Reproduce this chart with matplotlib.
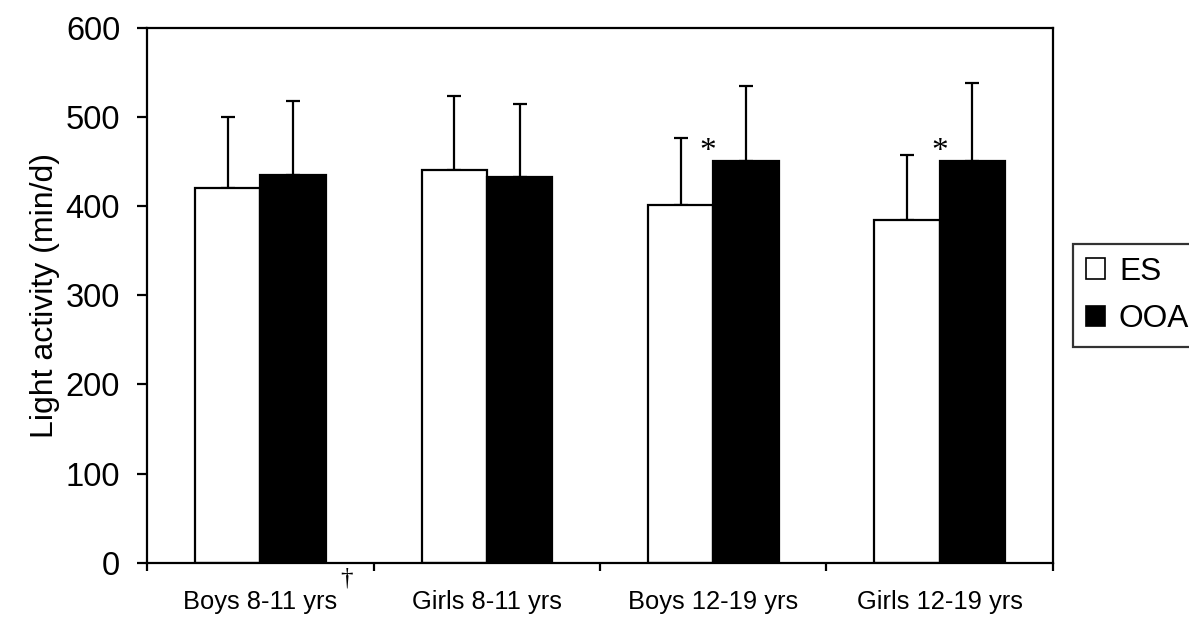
import matplotlib
matplotlib.use('Agg')
import matplotlib.pyplot as plt
import numpy as np
from matplotlib.patches import Patch

plt.rcParams['font.family'] = ['Liberation Sans', 'DejaVu Sans']

# 分组与数据
groups = ['Boys 8-11 yrs', 'Girls 8-11 yrs', 'Boys 12-19 yrs', 'Girls 12-19 yrs']
es_mean = [421, 441, 401, 385]
es_sd = [79, 83, 76, 72]
ooa_mean = [435, 433, 451, 451]
ooa_sd = [83, 82, 84, 87]

fig = plt.figure(figsize=(11.89, 6.18), dpi=100)
ax = fig.add_axes([0.1239, 0.0895, 0.7615, 0.8652])

x = np.arange(len(groups)) + 0.5
w = 0.2885
lw = 1.6

ax.bar(x - w / 2, es_mean, w, color='white', edgecolor='black', linewidth=lw, zorder=2)
ax.bar(x + w / 2, ooa_mean, w, color='black', edgecolor='black', linewidth=lw, zorder=2)

# 只画向上的误差线
ax.errorbar(x - w / 2, es_mean, yerr=[np.zeros(4), es_sd], fmt='none',
            ecolor='black', elinewidth=lw, capsize=5, capthick=lw, zorder=1)
ax.errorbar(x + w / 2, ooa_mean, yerr=[np.zeros(4), ooa_sd], fmt='none',
            ecolor='black', elinewidth=lw, capsize=5, capthick=lw, zorder=1)

# 显著性标记
ax.text(2.475, 461, '*', family='Liberation Serif', fontsize=24, ha='center', va='center')
ax.text(3.5, 461, '*', family='Liberation Serif', fontsize=24, ha='center', va='center')
ax.text(0.882, -18, '\u2020', family='Liberation Serif', fontsize=18, ha='center',
        va='center', clip_on=False)

ax.set_xlim(0, 4)
ax.set_ylim(0, 600)
ax.set_yticks(range(0, 601, 100))
ax.set_xticks(range(0, 5))
ax.set_xticklabels([])
ax.set_xticks(x, minor=True)
ax.set_xticklabels(groups, minor=True, fontsize=18.4)
ax.tick_params(axis='x', which='minor', length=0, pad=20)
ax.tick_params(axis='x', which='major', direction='out', length=6, width=lw)
ax.tick_params(axis='y', direction='out', length=7.5, width=lw, labelsize=23.5, pad=12)
for s in ax.spines.values():
    s.set_linewidth(lw)

ax.set_ylabel('Light activity (min/d)', fontsize=23, labelpad=4)

handles = [Patch(facecolor='white', edgecolor='black', linewidth=1.2, label='ES'),
           Patch(facecolor='black', edgecolor='black', linewidth=1.2, label='OOA')]
leg = fig.legend(handles=handles, loc='upper left', bbox_to_anchor=(1073 / 1189, 1 - 244 / 618),
                 fontsize=22.8, frameon=True, fancybox=False, handlelength=0.6,
                 handleheight=0.6, handletextpad=0.45, borderpad=0.4, labelspacing=0.55,
                 borderaxespad=0)
leg.get_frame().set_edgecolor('black')
leg.get_frame().set_linewidth(lw)

fig.savefig('out.png', dpi=100)
